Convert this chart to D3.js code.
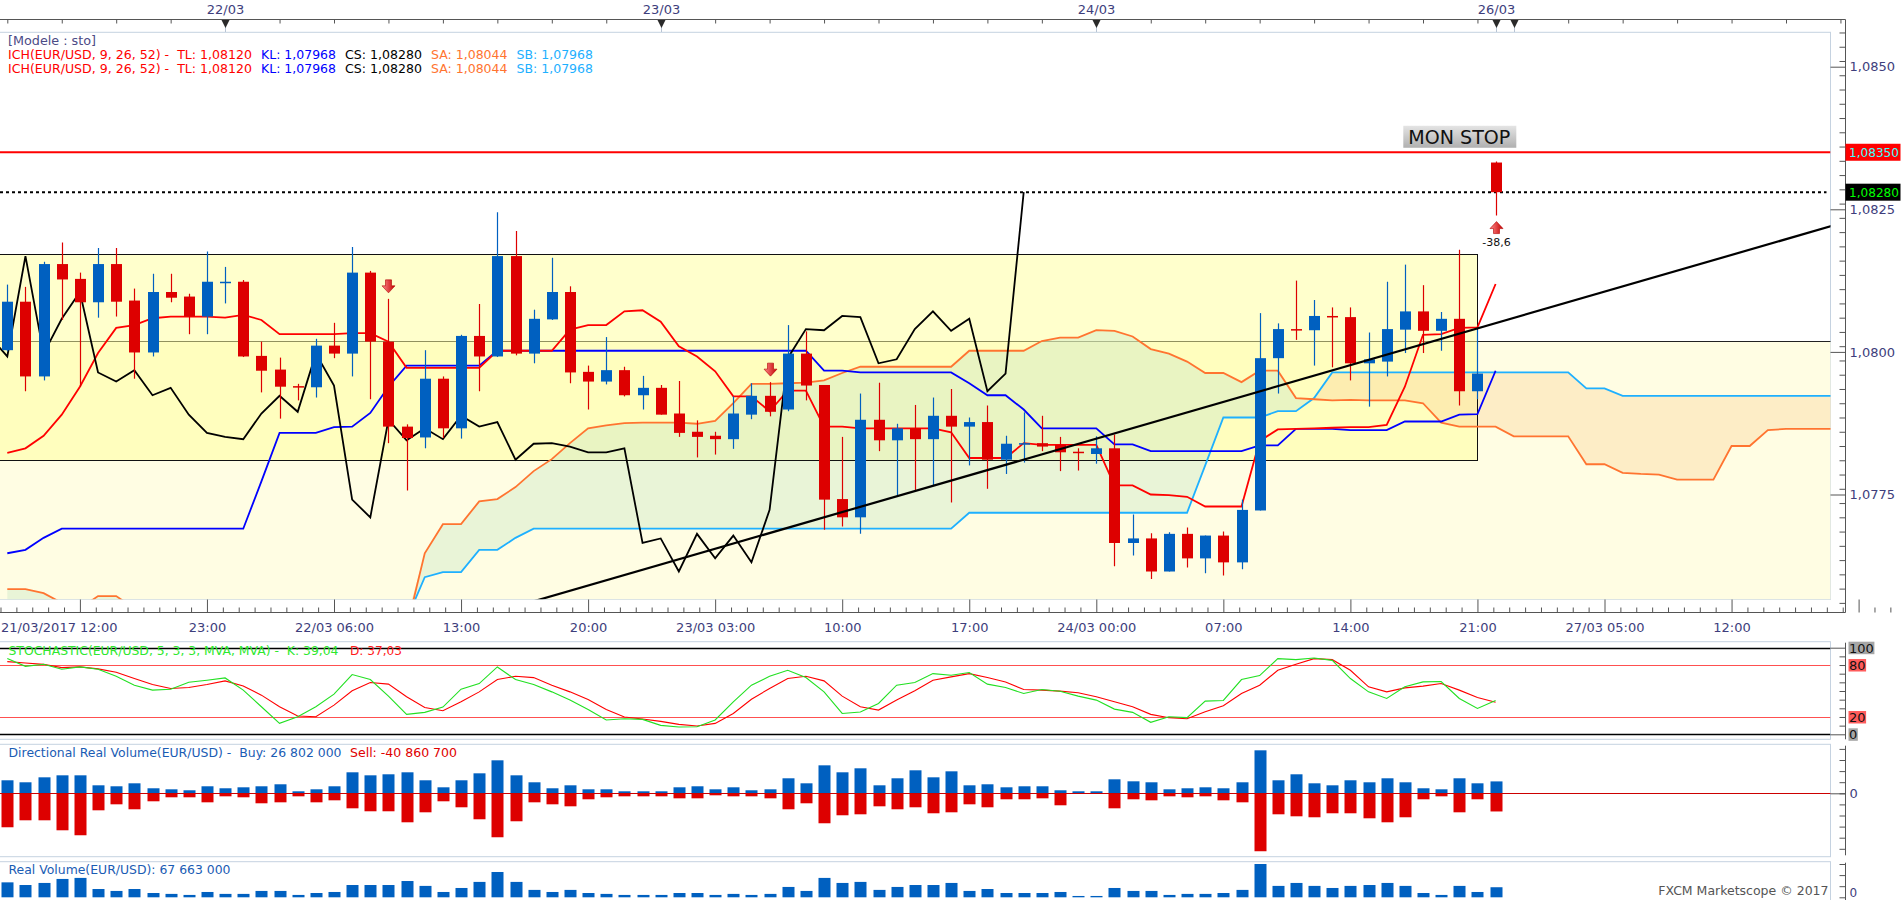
<!DOCTYPE html>
<html>
<head>
<meta charset="utf-8">
<style>
    body {
        margin: 0;
        background: #ffffff;
    }
    svg {
        display: block;
        font-family: 'DejaVu Sans', Verdana, sans-serif;
    }
</style>
</head>
<body>
<svg width="1903" height="900"></svg>

<script src="https://d3js.org/d3.v7.min.js"></script>
<script>
//------------------------1. DATA------------------------//
// hourly candles, slot 0 = 21/03 12:00, slot 82 = 26/03 23:00 (sunday open)
let opens = [1.08003,1.08088,1.07957,1.08154,1.08128,1.08087,1.08154,1.08090,1.07999,1.08105,
    1.08097,1.08062,1.08122,1.08123,1.07993,1.07969,1.07940,1.07938,1.08011,1.07997,
    1.08139,1.08018,1.07869,1.07850,1.07953,1.07866,1.08028,1.07992,1.08168,1.07997,
    1.08057,1.08105,1.07965,1.07948,1.07968,1.07924,1.07937,1.07892,1.07860,1.07853,
    1.07847,1.07890,1.07923,1.07899,1.07997,1.07942,1.07742,1.07710,1.07881,1.07845,
    1.07866,1.07847,1.07888,1.07869,1.07877,1.07811,1.07839,1.07840,1.07837,1.07825,
    1.07821,1.07831,1.07665,1.07673,1.07615,1.07681,1.07638,1.07678,1.07631,1.07722,
    1.07989,1.08040,1.08038,1.08063,1.08061,1.07980,1.07983,1.08039,1.08071,1.08037,
    1.08058,1.07931,1.08332]

let highs = [1.08118,1.08114,1.08158,1.08192,1.08139,1.08182,1.08182,1.08111,1.08137,1.08137,
    1.08102,1.08176,1.08149,1.08126,1.08018,1.07990,1.07944,1.08023,1.08051,1.08184,
    1.08142,1.08093,1.07873,1.08003,1.07957,1.08030,1.08084,1.08245,1.08212,1.08074,
    1.08165,1.08115,1.07976,1.08026,1.07974,1.07958,1.07942,1.07949,1.07880,1.07860,
    1.07922,1.07945,1.07947,1.08047,1.08036,1.07942,1.07851,1.07927,1.07946,1.07874,
    1.07907,1.07920,1.07935,1.07885,1.07906,1.07853,1.07894,1.07888,1.07851,1.07831,
    1.07852,1.07855,1.07715,1.07682,1.07684,1.07692,1.07678,1.07685,1.07741,1.08068,
    1.08050,1.08125,1.08091,1.08078,1.08078,1.08034,1.08123,1.08153,1.08117,1.08070,
    1.08179,1.08039,1.08334]

let lows = [1.08001,1.07931,1.07950,1.08056,1.07939,1.08060,1.08062,1.07953,1.07992,1.08087,
    1.08031,1.08031,1.08085,1.07991,1.07929,1.07883,1.07915,1.07920,1.07989,1.07957,
    1.07917,1.07840,1.07757,1.07831,1.07849,1.07848,1.07931,1.07991,1.07994,1.07980,
    1.08056,1.07945,1.07899,1.07943,1.07922,1.07899,1.07890,1.07851,1.07815,1.07820,
    1.07830,1.07882,1.07887,1.07896,1.07915,1.07688,1.07694,1.07681,1.07826,1.07748,
    1.07758,1.07765,1.07736,1.07801,1.07760,1.07786,1.07806,1.07826,1.07791,1.07792,
    1.07804,1.07624,1.07643,1.07602,1.07615,1.07622,1.07612,1.07608,1.07619,1.07722,
    1.07927,1.08021,1.07976,1.07973,1.07950,1.07904,1.07957,1.07998,1.07998,1.08002,
    1.07906,1.07917,1.08239]

let closes = [1.08088,1.07957,1.08154,1.08127,1.08087,1.08154,1.08088,1.07999,1.08105,1.08095,
    1.08062,1.08123,1.08123,1.07992,1.07967,1.07939,1.07938,1.08011,1.07997,1.08139,
    1.08018,1.07869,1.07849,1.07953,1.07866,1.08028,1.07992,1.08168,1.07997,1.08058,
    1.08105,1.07964,1.07948,1.07968,1.07924,1.07937,1.07890,1.07858,1.07851,1.07847,
    1.07892,1.07923,1.07895,1.07997,1.07941,1.07741,1.07710,1.07881,1.07845,1.07866,
    1.07847,1.07888,1.07869,1.07877,1.07811,1.07839,1.07840,1.07834,1.07824,1.07824,
    1.07831,1.07665,1.07673,1.07615,1.07681,1.07638,1.07678,1.07631,1.07723,1.07989,
    1.08040,1.08038,1.08063,1.08061,1.07980,1.07987,1.08040,1.08071,1.08037,1.08058,
    1.07931,1.07962,1.08280]

// ichimoku lines (slot by slot)
let tenkan = [1.07823,1.07831,1.07853,1.07890,1.07939,1.07998,1.08042,1.08047,1.08059,1.08062,
    1.08062,1.08062,1.08060,1.08065,1.08056,1.08031,1.08031,1.08031,1.08031,1.08033,
    1.08033,1.08018,1.07972,1.07972,1.07972,1.07972,1.07972,1.08002,1.08002,1.08002,
    1.08002,1.08039,1.08047,1.08047,1.08071,1.08073,1.08053,1.08010,1.07992,1.07966,
    1.07922,1.07922,1.07896,1.07932,1.07932,1.07869,1.07869,1.07866,1.07866,1.07866,
    1.07866,1.07866,1.07859,1.07814,1.07814,1.07814,1.07840,1.07837,1.07837,1.07837,
    1.07837,1.07766,1.07766,1.07750,1.07749,1.07746,1.07729,1.07729,1.07729,1.07844,
    1.07864,1.07865,1.07866,1.07867,1.07868,1.07868,1.07872,1.07939,1.08030,1.08031,
    1.08042,1.08043,1.08119]

let kijun = [1.07647,1.07653,1.07674,1.07690,1.07690,1.07690,1.07690,1.07690,1.07690,1.07690,
    1.07690,1.07690,1.07690,1.07690,1.07773,1.07858,1.07858,1.07858,1.07868,1.07869,
    1.07893,1.07939,1.07976,1.07976,1.07976,1.07976,1.07976,1.08002,1.08002,1.08002,
    1.08002,1.08002,1.08002,1.08002,1.08002,1.08002,1.08002,1.08002,1.08002,1.08002,
    1.08002,1.08002,1.08002,1.08002,1.08002,1.07967,1.07967,1.07964,1.07964,1.07964,
    1.07964,1.07964,1.07964,1.07945,1.07924,1.07924,1.07899,1.07866,1.07866,1.07866,
    1.07866,1.07838,1.07838,1.07826,1.07826,1.07826,1.07826,1.07826,1.07826,1.07836,
    1.07836,1.07865,1.07865,1.07865,1.07863,1.07863,1.07863,1.07878,1.07878,1.07878,
    1.07890,1.07891,1.07967]

// senkou spans run 19 slots past the last candle (values under 1.0757 sit below the view)
let senkouA = [1.07584,1.07584,1.07577,1.07560,1.07550,1.07572,1.07572,1.07550,1.07520,1.07520,
    1.07520,1.07520,1.07520,1.07520,1.07520,1.07520,1.07520,1.07520,1.07520,1.07520,
    1.07520,1.07520,1.07515,1.07647,1.07698,1.07698,1.07738,1.07742,1.07763,1.07791,
    1.07812,1.07840,1.07866,1.07871,1.07875,1.07876,1.07876,1.07876,1.07874,1.07879,
    1.07910,1.07944,1.07944,1.07945,1.07946,1.07950,1.07963,1.07974,1.07974,1.07974,
    1.07974,1.07974,1.07974,1.08002,1.08002,1.08002,1.08002,1.08019,1.08025,1.08025,
    1.08038,1.08037,1.08027,1.08005,1.07997,1.07983,1.07963,1.07963,1.07947,1.07967,
    1.07967,1.07919,1.07917,1.07915,1.07916,1.07915,1.07915,1.07915,1.07910,1.07876,
    1.07869,1.07869,1.07869,1.07852,1.07852,1.07852,1.07852,1.07803,1.07803,1.07788,
    1.07786,1.07785,1.07776,1.07776,1.07776,1.07835,1.07835,1.07863,1.07865,1.07865,
    1.07865,1.07865]

let senkouB = [1.07520,1.07520,1.07520,1.07520,1.07520,1.07520,1.07520,1.07520,1.07520,1.07520,
    1.07520,1.07520,1.07520,1.07520,1.07520,1.07520,1.07520,1.07520,1.07520,1.07520,
    1.07520,1.07520,1.07531,1.07605,1.07614,1.07614,1.07653,1.07653,1.07674,1.07690,
    1.07690,1.07690,1.07690,1.07690,1.07690,1.07690,1.07690,1.07690,1.07690,1.07690,
    1.07690,1.07690,1.07690,1.07690,1.07690,1.07690,1.07690,1.07690,1.07690,1.07690,
    1.07690,1.07690,1.07690,1.07718,1.07718,1.07718,1.07718,1.07718,1.07718,1.07718,
    1.07718,1.07718,1.07718,1.07718,1.07718,1.07718,1.07801,1.07885,1.07885,1.07885,
    1.07896,1.07896,1.07919,1.07964,1.07964,1.07964,1.07964,1.07964,1.07964,1.07964,
    1.07964,1.07964,1.07964,1.07964,1.07964,1.07964,1.07964,1.07936,1.07936,1.07923,
    1.07923,1.07923,1.07923,1.07923,1.07923,1.07923,1.07923,1.07923,1.07923,1.07923,
    1.07923,1.07923]

// stochastic %K and %D
let stochK = [87.4,78.5,80.8,75.1,77.8,75.1,67.0,56.7,51.0,52.1,
    60.2,62.5,65.1,51.0,31.8,12.6,20.3,31.8,46.4,69.0,
    63.2,44.1,23.0,25.3,31.4,52.1,58.6,77.8,63.2,57.5,
    49.0,39.5,28.7,16.5,18.0,17.2,10.3,8.4,8.8,16.5,
    37.5,56.7,67.0,73.9,65.5,49.0,24.1,25.7,35.6,56.7,
    59.8,70.1,68.2,71.3,57.9,54.0,47.1,51.7,49.8,44.1,
    39.5,29.1,25.3,13.8,20.3,19.2,38.3,39.1,63.2,67.8,
    87.4,86.2,88.1,85.4,64.4,49.0,41.4,54.8,60.5,60.9,
    41.4,29.9,39.0]

let stochD = [83.9,82.4,80.8,77.0,77.8,75.5,71.6,64.4,57.5,52.9,
    54.0,57.5,61.7,55.9,45.2,31.8,21.1,20.3,33.7,50.2,
    59.8,57.9,43.3,31.0,27.2,37.5,49.0,63.2,67.0,65.5,
    56.7,49.0,40.2,28.7,19.9,17.6,14.9,11.5,9.6,12.6,
    24.1,40.5,52.9,64.4,67.0,61.7,44.1,31.8,28.0,39.5,
    50.2,62.5,66.3,70.1,65.5,60.5,51.7,51.0,49.8,47.9,
    43.3,37.5,31.8,23.0,19.2,18.0,26.1,33.0,47.1,56.7,
    73.9,80.8,87.4,86.2,73.9,54.8,49.0,53.6,55.6,58.6,
    51.0,42.5,37.0]

// volumes in millions
let buyVol = [29.3,24.8,36.0,40.5,40.5,18.0,15.8,22.5,11.3,9.0,
    6.8,15.8,11.3,13.5,15.8,20.3,4.5,9.0,15.8,47.3,
    40.5,42.8,47.3,29.3,13.5,29.3,45.0,74.3,40.5,24.8,
    11.3,18.0,9.0,9.0,4.5,4.5,4.5,13.5,15.8,9.0,
    13.5,6.8,9.0,33.8,22.5,63.0,47.3,56.3,18.0,33.8,
    51.8,36.0,49.5,18.0,20.3,13.5,15.8,15.8,6.8,4.5,
    4.5,31.5,27.0,24.8,9.0,11.3,13.5,11.3,24.8,96.8,
    29.3,42.8,22.5,18.0,29.3,24.8,33.8,24.8,11.3,9.0,
    33.8,22.5,26.8]

let sellVol = [-76.5,-60.8,-60.8,-83.3,-94.5,-38.3,-24.8,-36.0,-18.0,-9.0,
    -9.0,-20.3,-6.8,-9.0,-22.5,-20.3,-6.8,-20.3,-15.8,-33.8,
    -40.5,-40.5,-65.3,-42.8,-18.0,-31.5,-58.5,-99.0,-63.0,-20.3,
    -24.8,-29.3,-13.5,-9.0,-6.8,-6.8,-6.8,-11.3,-11.3,-4.5,
    -6.8,-6.8,-11.3,-36.0,-22.5,-67.5,-49.5,-47.3,-29.3,-36.0,
    -31.5,-45.0,-42.8,-24.8,-31.5,-13.5,-13.5,-11.3,-27.0,-1.5,
    -1.5,-33.8,-13.5,-15.8,-6.8,-9.0,-6.8,-15.8,-20.3,-130.5,
    -47.3,-51.8,-54.0,-45.0,-45.0,-56.3,-65.3,-54.0,-13.5,-6.8,
    -42.8,-13.5,-40.9]

let realVol = [101,83,97,124,131,56,43,56,29,23,
    16,36,23,23,43,43,16,29,36,83,
    83,83,110,77,36,63,104,171,104,50,
    36,50,29,23,16,16,16,29,29,16,
    23,16,23,70,43,131,97,104,50,70,
    83,83,97,43,56,29,29,29,36,9,
    9,63,43,43,16,23,23,29,50,225,
    77,97,77,63,77,83,97,77,29,16,
    77,36,68]

// time axis
let topDateSlots = [12, 36, 60, 82, 83]
let topDateLabels = ["22/03", "23/03", "24/03", "26/03", ""]
let bottomLabelSlots = [11, 18, 25, 32, 39, 46, 53, 60, 67, 74, 81, 88, 95]
let bottomLabels = ["23:00", "22/03 06:00", "13:00", "20:00", "23/03 03:00", "10:00", "17:00",
    "24/03 00:00", "07:00", "14:00", "21:00", "27/03 05:00", "12:00"]
let bottomMajorSlots = [-3, 4, 11, 18, 25, 32, 39, 46, 53, 60, 67, 74, 81, 88, 95, 102]

// price axis
let priceTicks = [1.0850, 1.0825, 1.0800, 1.0775]
let priceTickLabels = ["1,0850", "1,0825", "1,0800", "1,0775"]

// levels & drawings
let stopLevel = 1.0835
let lastPrice = 1.0828
let zoneTop = 1.08171
let zoneBottom = 1.07810
let zoneEndSlot = 81
let lowerZoneTop = 1.08019
let trendSlots = [25, 105]
let trendPrices = [1.07526, 1.08262]
let signalSlots = [21, 42, 82]
let signalDirs = ["down", "down", "up"]

//------------------------2. LAYOUT------------------------//
let svg = d3.select("svg")
let plotRight = 1830.5
let axisX = 1845.5
let mainTop = 32.3, mainBottom = 599.3
let stochTop = 641.7, stochBottom = 739.3
let dvolTop = 744.3, dvolBottom = 856.7
let rvolTop = 861.7
let borderCol = "#c5d2e0"
let axisCol = "#555555"
let labelCol = "#3e3e7c"
let upCol = "#0060c0"
let downCol = "#dd0000"

let x = d3.scaleLinear().domain([0, 100]).range([7.3, 1822.3])
let y = d3.scaleLinear().domain([1.0850, 1.0825]).range([66.7, 209.3])
let yStoch = d3.scaleLinear().domain([0, 100]).range([734.3, 647.7])
let yDir = d3.scaleLinear().domain([0, 100]).range([793.3, 748.9])
let yReal = d3.scaleLinear().domain([0, 225]).range([897.3, 864])

let slots = d3.range(opens.length)
let fmtComma = function(v, n){ return d3.format("." + n + "f")(v).replace(".", ",") }

// text helper: fixed start and width like the platform font
let addText = function(parent, tx, ty, str, col, len, size){
    let t = parent.append("text")
        .attr("x", tx).attr("y", ty)
        .attr("font-size", size || 13).attr("fill", col)
        .attr("xml:space", "preserve")
        .text(str)
    if (len) { t.attr("textLength", len).attr("lengthAdjust", "spacingAndGlyphs") }
    return t
}

//-----------------------------DEFS------------------------------//
let defs = svg.append("defs")
defs.append("clipPath").attr("id", "clipMain")
    .append("rect").attr("x", 0).attr("y", mainTop).attr("width", plotRight).attr("height", mainBottom - mainTop)
defs.append("clipPath").attr("id", "clipStoch")
    .append("rect").attr("x", 0).attr("y", stochTop).attr("width", plotRight).attr("height", stochBottom - stochTop)

let gStop = defs.append("linearGradient").attr("id", "stopGrad").attr("x1", 0).attr("x2", 0).attr("y1", 0).attr("y2", 1)
gStop.append("stop").attr("offset", "0%").attr("stop-color", "#e4e4e4")
gStop.append("stop").attr("offset", "100%").attr("stop-color", "#b0b0b0")

let gArrow = defs.append("linearGradient").attr("id", "arrowGrad").attr("x1", 0).attr("x2", 1).attr("y1", 0).attr("y2", 0)
gArrow.append("stop").attr("offset", "0%").attr("stop-color", "#ff8a8a")
gArrow.append("stop").attr("offset", "100%").attr("stop-color", "#c40000")

//------------------------3. MAIN PANEL------------------------//
svg.append("rect")
    .attr("x", -1).attr("y", mainTop)
    .attr("width", plotRight + 1).attr("height", mainBottom - mainTop)
    .attr("fill", "#ffffff").attr("stroke", borderCol)

let plot = svg.append("g").attr("clip-path", "url(#clipMain)")

// lower pale zone
plot.append("rect")
    .attr("x", -5).attr("y", Math.round(y(lowerZoneTop)) + 0.5)
    .attr("width", plotRight + 10).attr("height", 400)
    .attr("fill", "#fffde3").attr("stroke", "#222").attr("stroke-width", 1)

// yellow zone fill
let zoneX2 = Math.round(x(zoneEndSlot)) + 0.5
plot.append("rect")
    .attr("x", -5).attr("y", Math.round(y(zoneTop)) + 0.5)
    .attr("width", zoneX2 + 5).attr("height", y(zoneBottom) - y(zoneTop))
    .attr("fill", "#ffff9a").attr("fill-opacity", 0.5)

// cloud
let cloudUp = d3.area()
    .x(function(d, i){ return x(i) })
    .y0(function(d, i){ return y(senkouB[i]) })
    .y1(function(d, i){ return y(Math.max(senkouA[i], senkouB[i])) })
let cloudDown = d3.area()
    .x(function(d, i){ return x(i) })
    .y0(function(d, i){ return y(senkouA[i]) })
    .y1(function(d, i){ return y(Math.max(senkouA[i], senkouB[i])) })

plot.append("path").attr("d", cloudUp(senkouA))
    .attr("fill", "#cfe8c8").attr("fill-opacity", 0.45)
plot.append("path").attr("d", cloudDown(senkouA))
    .attr("fill", "#fbd49a").attr("fill-opacity", 0.4)

// yellow zone border
plot.append("rect")
    .attr("x", -5).attr("y", Math.round(y(zoneTop)) + 0.5)
    .attr("width", zoneX2 + 5).attr("height", Math.round(y(zoneBottom) - y(zoneTop)))
    .attr("fill", "none").attr("stroke", "#111").attr("stroke-width", 1)

//----------------------------ICHIMOKU LINES----------------------------//
let line = d3.line()
    .x(function(d, i){ return x(i) })
    .y(function(d){ return y(d) })

plot.append("path").attr("d", line(senkouB))
    .attr("fill", "none").attr("stroke", "#1eb0ff").attr("stroke-width", 1.8)
plot.append("path").attr("d", line(senkouA))
    .attr("fill", "none").attr("stroke", "#ff7430").attr("stroke-width", 1.8)
plot.append("path").attr("d", line(kijun))
    .attr("fill", "none").attr("stroke", "#0000ff").attr("stroke-width", 1.8)
plot.append("path").attr("d", line(tenkan))
    .attr("fill", "none").attr("stroke", "#ff0000").attr("stroke-width", 1.8)

// chikou: closes drawn 26 slots back
let chikouLine = d3.line()
    .x(function(d){ return x(d - 26) })
    .y(function(d){ return y(closes[d]) })
plot.append("path").attr("d", chikouLine(d3.range(25, closes.length)))
    .attr("fill", "none").attr("stroke", "#000").attr("stroke-width", 1.8)

//----------------------------LEVELS----------------------------//
plot.append("line")
    .attr("x1", 0).attr("x2", plotRight)
    .attr("y1", y(stopLevel)).attr("y2", y(stopLevel))
    .attr("stroke", "#ff0000").attr("stroke-width", 2)

plot.append("line")
    .attr("x1", 0).attr("x2", plotRight - 4)
    .attr("y1", y(lastPrice)).attr("y2", y(lastPrice))
    .attr("stroke", "#000").attr("stroke-width", 2)
    .attr("stroke-dasharray", "3,3")

//----------------------------CANDLES----------------------------//
let candles = plot.append("g").selectAll(".candle")
    .data(slots)
    .join("g")
    .attr("class", "candle")

candles.append("line")
    .attr("x1", function(d){ return Math.round(x(d)) + 0.5 })
    .attr("x2", function(d){ return Math.round(x(d)) + 0.5 })
    .attr("y1", function(d){ return y(highs[d]) })
    .attr("y2", function(d){ return y(lows[d]) })
    .attr("stroke", function(d){ return closes[d] > opens[d] ? upCol : downCol })
    .attr("stroke-width", 1.2)

candles.append("rect")
    .attr("x", function(d){ return Math.round(x(d)) - 5 })
    .attr("width", 11)
    .attr("y", function(d){ return y(Math.max(opens[d], closes[d])) })
    .attr("height", function(d){ return Math.max(1.5, Math.abs(y(opens[d]) - y(closes[d]))) })
    .attr("fill", function(d){ return closes[d] > opens[d] ? upCol : downCol })

//----------------------------TRENDLINE----------------------------//
plot.append("line")
    .attr("x1", x(trendSlots[0])).attr("y1", y(trendPrices[0]))
    .attr("x2", x(trendSlots[1])).attr("y2", y(trendPrices[1]))
    .attr("stroke", "#000").attr("stroke-width", 2.2)

//----------------------------SIGNALS----------------------------//
let arrowPath = function(cx, top, dir){
    if (dir == "down") {
        return "M" + (cx - 3) + "," + top + "H" + (cx + 3) + "V" + (top + 6) + "H" + (cx + 6.5) +
            "L" + cx + "," + (top + 13) + "L" + (cx - 6.5) + "," + (top + 6) + "H" + (cx - 3) + "Z"
    } else {
        return "M" + cx + "," + top + "L" + (cx + 6.5) + "," + (top + 7) + "H" + (cx + 3) + "V" + (top + 12) +
            "H" + (cx - 3) + "V" + (top + 7) + "H" + (cx - 6.5) + "Z"
    }
}

signalSlots.forEach(function(s, i){
    let cx = Math.round(x(s)) + 0.5
    let top = signalDirs[i] == "down" ? y(highs[s]) - 19 : y(lows[s]) + 6
    plot.append("path")
        .attr("d", arrowPath(cx, top, signalDirs[i]))
        .attr("fill", "url(#arrowGrad)")
        .attr("stroke", "#b00000").attr("stroke-width", 0.6)
    if (signalDirs[i] == "up") {
        plot.append("text")
            .attr("x", cx).attr("y", y(lows[s]) + 30)
            .attr("text-anchor", "middle")
            .attr("font-size", 11).attr("fill", "#111")
            .text("-38,6")
    }
})

// MON STOP tag
let tagX = x(80)
plot.append("rect")
    .attr("x", tagX - 56).attr("y", y(stopLevel) - 26.5)
    .attr("width", 113).attr("height", 22)
    .attr("fill", "url(#stopGrad)")
plot.append("text")
    .attr("x", tagX).attr("y", y(stopLevel) - 8.5)
    .attr("text-anchor", "middle")
    .attr("font-size", 19.5).attr("fill", "#111")
    .attr("textLength", 102).attr("lengthAdjust", "spacingAndGlyphs")
    .text("MON STOP")

//----------------------------LEGEND----------------------------//
addText(svg, 8, 45, "[Modele : sto]", "#4b4b86", 88)

let legendParts = ["ICH(EUR/USD, 9, 26, 52) -  TL: 1,08120", "KL: 1,07968", "CS: 1,08280", "SA: 1,08044", "SB: 1,07968"]
let legendX = [8, 261, 345, 431, 516.5]
let legendW = [244, 75, 77, 76.5, 76.5]
let legendCols = ["#ff0000", "#0000ff", "#000000", "#ff7430", "#1eb0ff"]
;[59, 73].forEach(function(ly){
    legendParts.forEach(function(t, i){
        addText(svg, legendX[i], ly, t, legendCols[i], legendW[i])
    })
})

//----------------------------TOP TIME AXIS----------------------------//
svg.append("line")
    .attr("x1", 0).attr("x2", axisX).attr("y1", 19.5).attr("y2", 19.5)
    .attr("stroke", axisCol)

let topTicks = d3.range(0, 82, 3).concat(d3.range(83, 102, 3))
svg.append("g")
    .attr("transform", "translate(0,19.5)")
    .call(d3.axisBottom(x).tickValues(topTicks).tickSize(4).tickFormat(""))
    .call(function(g){ g.select(".domain").remove() })
    .call(function(g){ g.selectAll(".tick line").attr("stroke", axisCol) })

topDateSlots.forEach(function(s, i){
    let mx = Math.round(x(s)) + 0.5
    svg.append("line").attr("x1", mx).attr("x2", mx).attr("y1", 20).attr("y2", 32)
        .attr("stroke", "#b8c4d4")
    svg.append("path")
        .attr("d", "M" + (mx - 4) + ",20L" + (mx + 4) + ",20L" + mx + ",28Z")
        .attr("fill", "#2a2a2a")
    svg.append("text")
        .attr("x", mx).attr("y", 14)
        .attr("text-anchor", "middle")
        .attr("font-size", 13).attr("fill", labelCol)
        .text(topDateLabels[i])
})

//----------------------------BOTTOM TIME AXIS----------------------------//
svg.append("line")
    .attr("x1", 0).attr("x2", axisX).attr("y1", 612.5).attr("y2", 612.5)
    .attr("stroke", axisCol)

let minorSlots = []
bottomMajorSlots.forEach(function(m){
    for (let k = 1; k < 8; k++) { minorSlots.push(m + k * 7 / 8) }
})

svg.append("g")
    .attr("transform", "translate(0,612.5)")
    .call(d3.axisTop(x).tickValues(bottomMajorSlots).tickSize(13).tickFormat(""))
    .call(function(g){ g.select(".domain").remove() })
    .call(function(g){ g.selectAll(".tick line").attr("stroke", axisCol) })

svg.append("g")
    .attr("transform", "translate(0,612.5)")
    .call(d3.axisTop(x).tickValues(minorSlots).tickSize(5).tickFormat(""))
    .call(function(g){ g.select(".domain").remove() })
    .call(function(g){ g.selectAll(".tick line").attr("stroke", axisCol) })

svg.append("g")
    .attr("transform", "translate(0,612.5)")
    .call(d3.axisBottom(x).tickValues(bottomLabelSlots).tickSize(0).tickPadding(10)
        .tickFormat(function(d, i){ return bottomLabels[i] }))
    .call(function(g){ g.select(".domain").remove() })
    .call(function(g){
        g.selectAll(".tick text")
            .attr("font-size", 13).attr("fill", labelCol)
            .attr("font-family", "'DejaVu Sans', Verdana, sans-serif")
    })

svg.append("text")
    .attr("x", 1).attr("y", 632)
    .attr("font-size", 13).attr("fill", labelCol)
    .text("21/03/2017 12:00")

//----------------------------PRICE AXIS----------------------------//
svg.append("line")
    .attr("x1", axisX).attr("x2", axisX).attr("y1", 19.5).attr("y2", 612.5)
    .attr("stroke", axisCol)

let minorPrices = d3.range(10741, 10861, 2.5).map(function(v){ return v / 10000 })
    .filter(function(p){ return y(p) > 22 && y(p) < 610 })
svg.append("g")
    .attr("transform", "translate(" + axisX + ",0)")
    .call(d3.axisLeft(y).tickValues(minorPrices).tickSize(6).tickFormat(""))
    .call(function(g){ g.select(".domain").remove() })
    .call(function(g){ g.selectAll(".tick line").attr("stroke", axisCol) })

svg.append("g")
    .attr("transform", "translate(" + axisX + ",0)")
    .call(d3.axisLeft(y).tickValues(priceTicks).tickSize(axisX - plotRight).tickFormat(""))
    .call(function(g){ g.select(".domain").remove() })
    .call(function(g){ g.selectAll(".tick line").attr("stroke", axisCol) })

svg.append("g")
    .attr("transform", "translate(" + axisX + ",0)")
    .call(d3.axisRight(y).tickValues(priceTicks).tickSize(0).tickPadding(4)
        .tickFormat(function(d, i){ return priceTickLabels[i] }))
    .call(function(g){ g.select(".domain").remove() })
    .call(function(g){
        g.selectAll(".tick text")
            .attr("font-size", 13).attr("fill", labelCol)
            .attr("font-family", "'DejaVu Sans', Verdana, sans-serif")
    })

// price tags
let tags = [[stopLevel, "#ff0000", "#40ffff"], [lastPrice, "#000000", "#00ff00"]]
tags.forEach(function(t){
    svg.append("rect")
        .attr("x", axisX).attr("y", y(t[0]) - 8.5)
        .attr("width", 55).attr("height", 17)
        .attr("fill", t[1])
    addText(svg, axisX + 3.5, y(t[0]) + 4.6, fmtComma(t[0], 5), t[2], 50, 12.5)
})

//------------------------4. STOCHASTIC PANEL------------------------//
svg.append("rect")
    .attr("x", -1).attr("y", stochTop)
    .attr("width", plotRight + 1).attr("height", stochBottom - stochTop)
    .attr("fill", "#fff").attr("stroke", borderCol)

let stochG = svg.append("g").attr("clip-path", "url(#clipStoch)")
let stochLevels = [100, 80, 20, 0]
stochLevels.forEach(function(v){
    let edge = (v == 100 || v == 0)
    stochG.append("line")
        .attr("x1", 0).attr("x2", plotRight)
        .attr("y1", Math.round(yStoch(v)) + 0.5).attr("y2", Math.round(yStoch(v)) + 0.5)
        .attr("stroke", edge ? "#000" : "#ff5050")
        .attr("stroke-width", edge ? 1.5 : 1)
})

let stochLine = d3.line()
    .x(function(d, i){ return x(i) })
    .y(function(d){ return yStoch(d) })
stochG.append("path").attr("d", stochLine(stochD))
    .attr("fill", "none").attr("stroke", "#ff0000").attr("stroke-width", 1.1)
stochG.append("path").attr("d", stochLine(stochK))
    .attr("fill", "none").attr("stroke", "#22e022").attr("stroke-width", 1.1)

addText(svg, 8.5, 654.5, "STOCHASTIC(EUR/USD, 5, 3, 3, MVA, MVA) -  K: 39,04", "#2ee82e", 330)
addText(svg, 350, 654.5, "D: 37,03", "#ff1a1a", 52)

svg.append("line")
    .attr("x1", axisX).attr("x2", axisX).attr("y1", 642.7).attr("y2", stochBottom)
    .attr("stroke", axisCol)
svg.append("g")
    .attr("transform", "translate(" + axisX + ",0)")
    .call(d3.axisLeft(yStoch).tickValues(d3.range(10, 100, 10)).tickSize(6).tickFormat(""))
    .call(function(g){ g.select(".domain").remove() })
    .call(function(g){ g.selectAll(".tick line").attr("stroke", axisCol) })
svg.append("g")
    .attr("transform", "translate(" + axisX + ",0)")
    .call(d3.axisLeft(yStoch).tickValues([0, 100]).tickSize(axisX - plotRight).tickFormat(""))
    .call(function(g){ g.select(".domain").remove() })
    .call(function(g){ g.selectAll(".tick line").attr("stroke", axisCol) })

let stochTagCols = ["#a6a6a6", "#ff5c5c", "#ff5c5c", "#a6a6a6"]
stochLevels.forEach(function(v, i){
    let label = String(v)
    svg.append("rect")
        .attr("x", axisX + 3).attr("y", yStoch(v) - 6)
        .attr("width", label.length * 8.3 + 1).attr("height", 12.5)
        .attr("fill", stochTagCols[i])
    svg.append("text")
        .attr("x", axisX + 3.5).attr("y", yStoch(v) + 4.8)
        .attr("font-size", 13).attr("fill", "#111")
        .text(label)
})

//------------------------5. DIRECTIONAL VOLUME------------------------//
svg.append("rect")
    .attr("x", -1).attr("y", dvolTop)
    .attr("width", plotRight + 1).attr("height", dvolBottom - dvolTop)
    .attr("fill", "#fff").attr("stroke", borderCol)

let dvolG = svg.append("g")
dvolG.selectAll(".buy")
    .data(slots)
    .join("rect")
    .attr("class", "buy")
    .attr("x", function(d){ return Math.round(x(d)) - 5.5 })
    .attr("width", 12)
    .attr("y", function(d){ return yDir(buyVol[d]) })
    .attr("height", function(d){ return yDir(0) - yDir(buyVol[d]) })
    .attr("fill", upCol)

dvolG.selectAll(".sell")
    .data(slots)
    .join("rect")
    .attr("class", "sell")
    .attr("x", function(d){ return Math.round(x(d)) - 5.5 })
    .attr("width", 12)
    .attr("y", yDir(0))
    .attr("height", function(d){ return yDir(sellVol[d]) - yDir(0) })
    .attr("fill", downCol)

svg.append("line")
    .attr("x1", 0).attr("x2", plotRight)
    .attr("y1", Math.round(yDir(0)) + 0.5).attr("y2", Math.round(yDir(0)) + 0.5)
    .attr("stroke", "#cc0000")

addText(svg, 8.5, 757, "Directional Real Volume(EUR/USD) -  Buy: 26 802 000", "#1a5cb4", 333)
addText(svg, 350, 757, "Sell: -40 860 700", "#e00000", 107)

svg.append("line")
    .attr("x1", axisX).attr("x2", axisX).attr("y1", 745.7).attr("y2", 855.3)
    .attr("stroke", axisCol)
svg.append("g")
    .attr("transform", "translate(" + axisX + ",0)")
    .call(d3.axisLeft(yDir).tickValues(d3.range(-125, 101, 25)).tickSize(6).tickFormat(""))
    .call(function(g){ g.select(".domain").remove() })
    .call(function(g){ g.selectAll(".tick line").attr("stroke", axisCol) })
svg.append("g")
    .attr("transform", "translate(" + axisX + ",0)")
    .call(d3.axisLeft(yDir).tickValues([0]).tickSize(axisX - plotRight).tickFormat(""))
    .call(function(g){ g.select(".domain").remove() })
    .call(function(g){ g.selectAll(".tick line").attr("stroke", axisCol) })
svg.append("text")
    .attr("x", axisX + 4).attr("y", yDir(0) + 4.8)
    .attr("font-size", 13).attr("fill", labelCol)
    .text("0")

//------------------------6. REAL VOLUME------------------------//
svg.append("rect")
    .attr("x", -1).attr("y", rvolTop)
    .attr("width", plotRight + 1).attr("height", 60)
    .attr("fill", "#fff").attr("stroke", borderCol)

svg.append("g").selectAll(".rv")
    .data(slots)
    .join("rect")
    .attr("class", "rv")
    .attr("x", function(d){ return Math.round(x(d)) - 5.5 })
    .attr("width", 12)
    .attr("y", function(d){ return yReal(realVol[d]) })
    .attr("height", function(d){ return yReal(0) - yReal(realVol[d]) })
    .attr("fill", upCol)

addText(svg, 8.5, 874, "Real Volume(EUR/USD): 67 663 000", "#1a5cb4", 222)

svg.append("line")
    .attr("x1", axisX).attr("x2", axisX).attr("y1", 862.7).attr("y2", 900)
    .attr("stroke", axisCol)
svg.append("g")
    .attr("transform", "translate(" + axisX + ",0)")
    .call(d3.axisLeft(yReal).tickValues([0, 75, 150, 225]).tickSize(6).tickFormat(""))
    .call(function(g){ g.select(".domain").remove() })
    .call(function(g){ g.selectAll(".tick line").attr("stroke", axisCol) })
svg.append("text")
    .attr("x", axisX + 4).attr("y", 896.5)
    .attr("font-size", 12).attr("fill", labelCol)
    .text("0")

svg.append("text")
    .attr("x", plotRight - 2).attr("y", 895)
    .attr("text-anchor", "end")
    .attr("font-size", 12.5).attr("fill", "#555")
    .text("FXCM Marketscope \u00a9 2017")

</script>
</body>
</html>
